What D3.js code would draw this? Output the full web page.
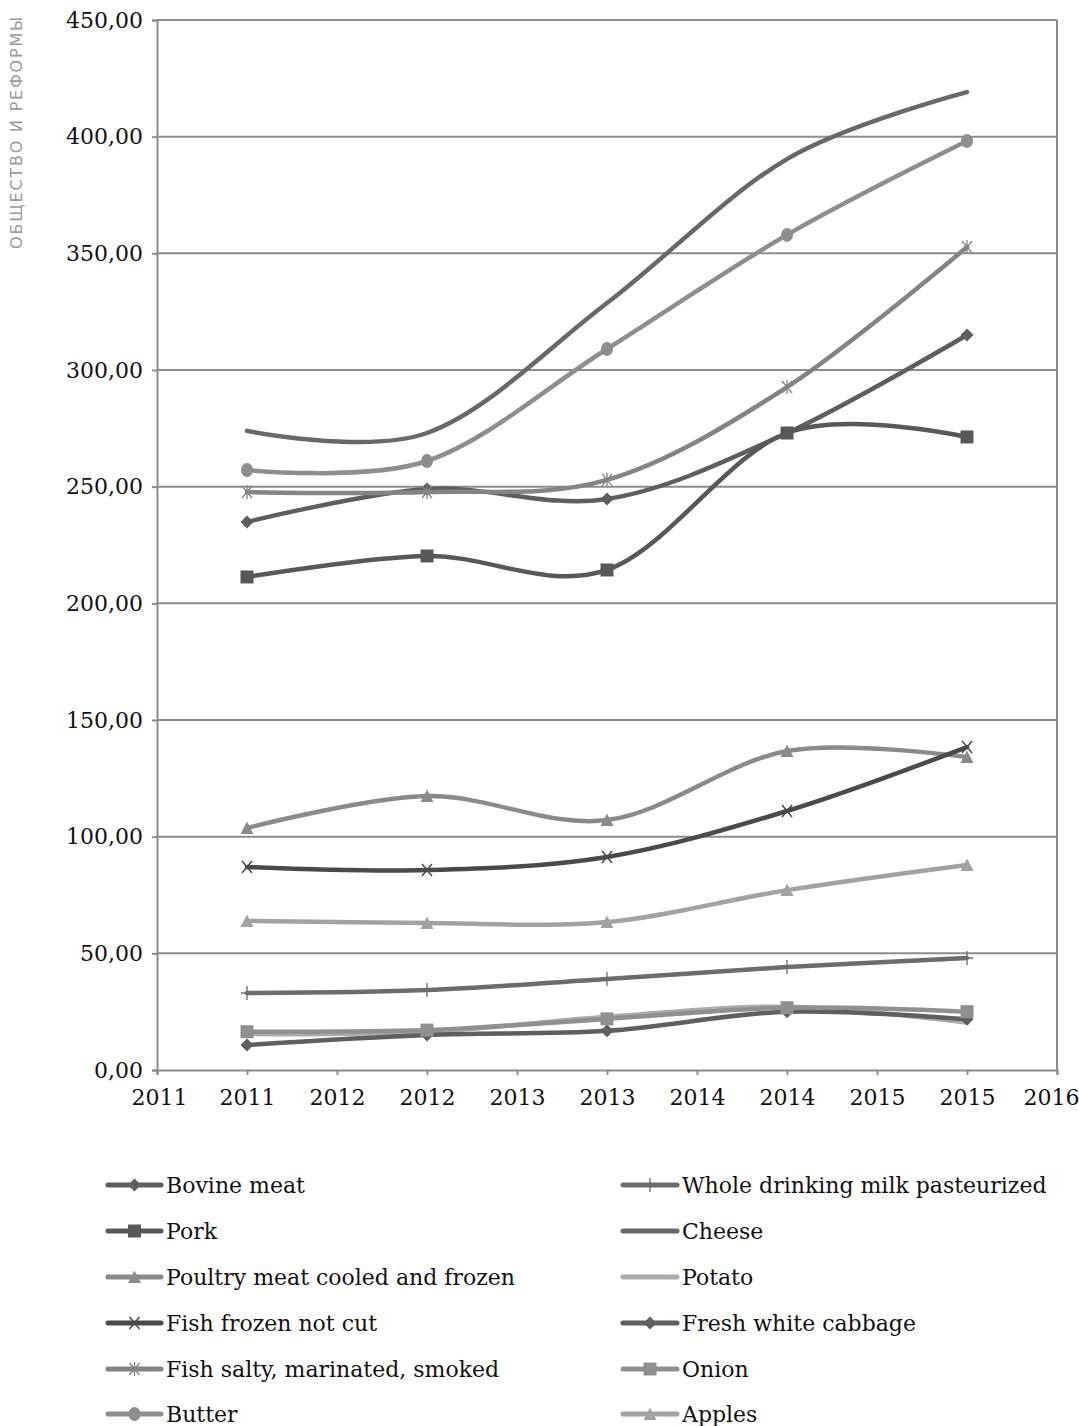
<!DOCTYPE html>
<html>
<head>
<meta charset="utf-8">
<script src="https://cdn.jsdelivr.net/npm/d3@7"></script>
<style>
  body { margin: 0; background: #fff; }
  svg { display: block; }
</style>
</head>
<body>
<svg id="chart" width="1079" height="1426"></svg>
<script>
// Average consumer prices by product, 2011–2015
const years = [2011, 2012, 2013, 2014, 2015];

const xTickValues = [2010.5, 2011, 2011.5, 2012, 2012.5, 2013, 2013.5, 2014, 2014.5, 2015, 2015.5];
const xTickLabels = ["2011", "2011", "2012", "2012", "2013", "2013", "2014", "2014", "2015", "2015", "2016"];
const yTickValues = [0, 50, 100, 150, 200, 250, 300, 350, 400, 450];
const yTickLabels = ["0,00", "50,00", "100,00", "150,00", "200,00", "250,00", "300,00", "350,00", "400,00", "450,00"];

const bovineMeat      = [234.9, 249.0, 244.7, 273.0, 315.0];
const pork            = [211.3, 220.3, 214.3, 273.0, 271.3];
const poultryMeat     = [103.7, 117.4, 107.1, 136.7, 134.1];
const fishFrozen      = [87.0, 85.7, 91.3, 111.0, 138.4];
const fishSalty       = [247.7, 247.7, 252.9, 292.7, 352.7];
const butter          = [257.1, 261.0, 309.0, 357.9, 398.1];
const wholeMilk       = [33.0, 34.3, 39.0, 44.1, 48.0];
const cheese          = [273.9, 273.0, 328.7, 390.4, 419.1];
const potato          = [15.4, 16.4, 22.8, 27.1, 20.3];
const whiteCabbage    = [10.7, 15.0, 16.8, 25.0, 21.7];
const onion           = [16.4, 17.1, 21.9, 26.7, 25.0];
const apples          = [63.9, 63.0, 63.4, 77.1, 87.9];

const seriesNames = [
  "Bovine meat", "Pork", "Poultry meat cooled and frozen", "Fish frozen not cut",
  "Fish salty, marinated, smoked", "Butter", "Whole drinking milk pasteurized",
  "Cheese", "Potato", "Fresh white cabbage", "Onion", "Apples"
];
const seriesValues = [
  bovineMeat, pork, poultryMeat, fishFrozen, fishSalty, butter,
  wholeMilk, cheese, potato, whiteCabbage, onion, apples
];

// Line appearance per series (grey print palette)
const styles = [
  { color: "#5e5e5e", marker: "diamond" },
  { color: "#585858", marker: "square" },
  { color: "#8a8a8a", marker: "triangle" },
  { color: "#4a4a4a", marker: "x" },
  { color: "#848484", marker: "star" },
  { color: "#8e8e8e", marker: "circle" },
  { color: "#6c6c6c", marker: "plus" },
  { color: "#686868", marker: null },
  { color: "#ababab", marker: null },
  { color: "#5f5f5f", marker: "diamond" },
  { color: "#909090", marker: "square" },
  { color: "#a2a2a2", marker: "triangle" }
];

const svg = d3.select("#chart");
const margin = { left: 157, right: 1057, top: 20, bottom: 1070 };

const x = d3.scaleLinear().domain([2010.5, 2015.5]).range([margin.left, margin.right]);
const y = d3.scaleLinear().domain([0, 450]).range([margin.bottom, margin.top]);

const serif = "'DejaVu Serif', 'Liberation Serif', serif";

// Side running title
svg.append("text")
  .attr("transform", "translate(22,249) rotate(-90)")
  .attr("font-family", "'DejaVu Sans', 'Liberation Sans', sans-serif")
  .attr("font-size", 16)
  .attr("letter-spacing", 1.8)
  .attr("fill", "#9a9a9a")
  .text("ОБЩЕСТВО И РЕФОРМЫ");

// Horizontal grid
svg.append("g")
  .selectAll("line")
  .data(yTickValues.filter(d => d > 0))
  .join("line")
  .attr("x1", margin.left).attr("x2", margin.right)
  .attr("y1", d => y(d)).attr("y2", d => y(d))
  .attr("stroke", "#8c8c8c").attr("stroke-width", 2);

// Right frame edge
svg.append("line")
  .attr("x1", margin.right).attr("x2", margin.right)
  .attr("y1", margin.top).attr("y2", margin.bottom)
  .attr("stroke", "#8c8c8c").attr("stroke-width", 2);

// Y axis
const yAxis = svg.append("g")
  .attr("transform", `translate(${margin.left},0)`)
  .call(d3.axisLeft(y).tickValues(yTickValues)
    .tickFormat((d, i) => yTickLabels[i]).tickSize(5).tickPadding(9));
yAxis.select(".domain").attr("stroke", "#8c8c8c").attr("stroke-width", 2);
yAxis.selectAll(".tick line").attr("stroke", "#8c8c8c").attr("stroke-width", 2);
yAxis.selectAll("text").attr("font-family", serif).attr("font-size", 22).attr("fill", "#111");

// X axis
const xAxis = svg.append("g")
  .attr("transform", `translate(0,${margin.bottom})`)
  .call(d3.axisBottom(x).tickValues(xTickValues)
    .tickFormat((d, i) => xTickLabels[i]).tickSize(5).tickPadding(14));
xAxis.select(".domain").attr("stroke", "#8c8c8c").attr("stroke-width", 2);
xAxis.selectAll(".tick line").attr("stroke", "#8c8c8c").attr("stroke-width", 2);
xAxis.selectAll("text").attr("font-family", serif).attr("font-size", 22).attr("fill", "#111");
// keep the last year label inside the page edge
xAxis.selectAll(".tick text").filter((d, i, n) => i === n.length - 1).attr("dx", -6);
xAxis.selectAll(".tick text").filter((d, i) => i === 0).attr("dx", 2);

// Marker shapes
function drawMarker(g, type, color, cx, cy) {
  const s = 6.5;
  if (type === "diamond") {
    g.append("path").attr("d", `M${cx},${cy - s} L${cx + s},${cy} L${cx},${cy + s} L${cx - s},${cy} Z`).attr("fill", color);
  } else if (type === "square") {
    g.append("rect").attr("x", cx - 6.5).attr("y", cy - 6.5).attr("width", 13).attr("height", 13).attr("fill", color);
  } else if (type === "triangle") {
    g.append("path").attr("d", `M${cx},${cy - 6.5} L${cx + 6.5},${cy + 6} L${cx - 6.5},${cy + 6} Z`).attr("fill", color);
  } else if (type === "circle") {
    g.append("ellipse").attr("cx", cx).attr("cy", cy).attr("rx", 6).attr("ry", 7).attr("fill", color);
  } else if (type === "x") {
    g.append("path").attr("d", `M${cx - 5},${cy - 6} L${cx + 5},${cy + 6} M${cx + 5},${cy - 6} L${cx - 5},${cy + 6}`)
      .attr("stroke", color).attr("stroke-width", 1.5).attr("fill", "none");
  } else if (type === "star") {
    g.append("path").attr("d", `M${cx - 5},${cy - 6} L${cx + 5},${cy + 6} M${cx + 5},${cy - 6} L${cx - 5},${cy + 6} M${cx},${cy - 7} L${cx},${cy + 7}`)
      .attr("stroke", color).attr("stroke-width", 1.3).attr("fill", "none");
  } else if (type === "plus") {
    g.append("path").attr("d", `M${cx},${cy - 7} L${cx},${cy + 7} M${cx - 6},${cy} L${cx + 6},${cy}`)
      .attr("stroke", color).attr("stroke-width", 1.3).attr("fill", "none");
  }
}

// Smoothed series lines
const line = d3.line()
  .x((d, i) => x(years[i]))
  .y(d => y(d))
  .curve(d3.curveCatmullRom.alpha(0));

const plot = svg.append("g");
seriesValues.forEach((vals, k) => {
  const st = styles[k];
  const g = plot.append("g");
  g.append("path")
    .attr("d", line(vals))
    .attr("fill", "none")
    .attr("stroke", st.color)
    .attr("stroke-width", 4.5)
    .attr("stroke-linecap", "round")
    .attr("stroke-linejoin", "round");
  if (st.marker) vals.forEach((v, i) => drawMarker(g, st.marker, st.color, x(years[i]), y(v)));
});

// Legend in two columns
const legendRows = [1185, 1231, 1277, 1323, 1369, 1414];
const legendCols = [{ x1: 108, x2: 161, tx: 166 }, { x1: 623, x2: 677, tx: 682 }];
seriesNames.forEach((name, k) => {
  const col = legendCols[Math.floor(k / 6)];
  const cy = legendRows[k % 6];
  const st = styles[k];
  const g = svg.append("g");
  g.append("line")
    .attr("x1", col.x1).attr("x2", col.x2).attr("y1", cy).attr("y2", cy)
    .attr("stroke", st.color).attr("stroke-width", 5).attr("stroke-linecap", "round");
  if (st.marker) drawMarker(g, st.marker, st.color, (col.x1 + col.x2) / 2, cy);
  g.append("text")
    .attr("x", col.tx).attr("y", cy).attr("dy", "0.35em")
    .attr("font-family", serif).attr("font-size", 22).attr("fill", "#111")
    .text(name);
});
</script>
</body>
</html>
